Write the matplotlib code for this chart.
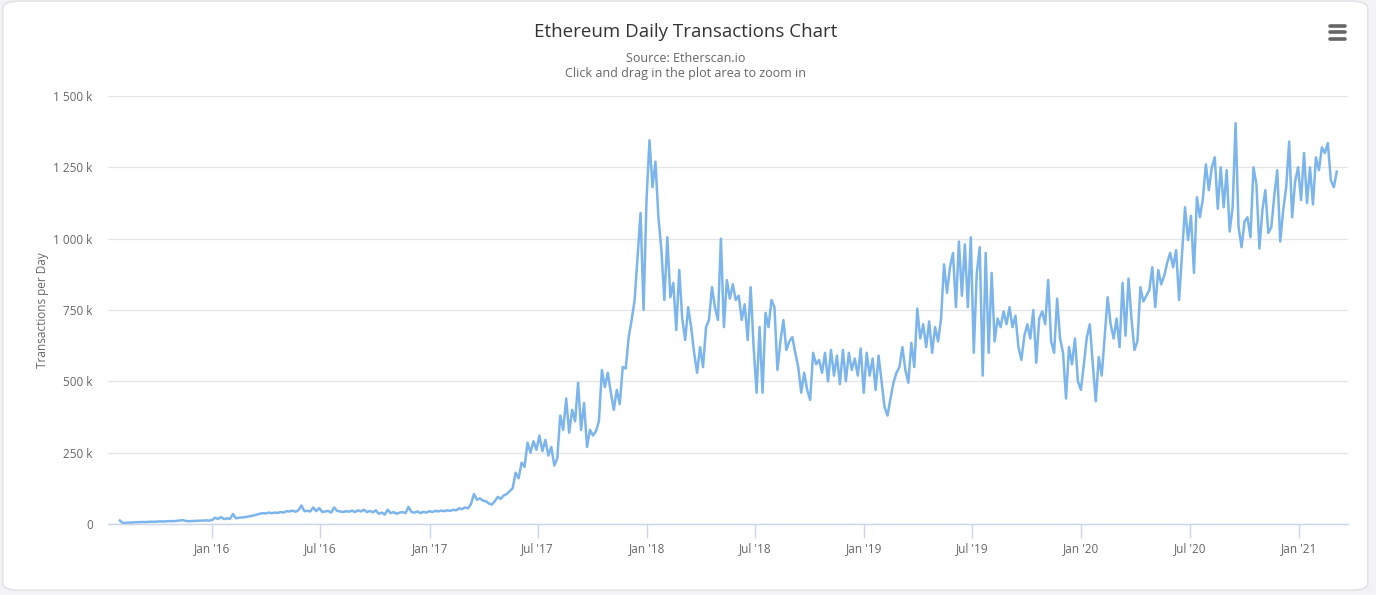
import pandas as pd
import numpy as np
import matplotlib.pyplot as plt
import matplotlib.dates as mdates
from matplotlib.patches import FancyBboxPatch
from matplotlib.lines import Line2D

plt.rcParams['font.family'] = ['Open Sans', 'DejaVu Sans']

# daily transactions (thousands), every 5 days from launch
start_date = '2015-07-30'
step = '5D'
tx_k = [
    12, 3, 4, 5, 5, 6, 6, 7, 7, 7, 8, 8, 8, 9, 9, 9, 10, 10, 10, 11,
    12, 14, 11, 10, 10, 11, 11, 12, 12, 13, 12, 14,
    22, 18, 24, 17, 20, 18, 35, 20, 22, 23, 24, 26, 28, 30, 33, 36, 38, 37,
    40, 38, 40, 39, 42, 40, 45, 44, 47, 43, 48, 65, 45, 46, 44, 58, 45, 56, 42, 44,
    46, 40, 58, 46, 44, 42, 45, 43, 47, 42, 48, 44, 50, 42, 46, 41, 48, 36, 40, 33,
    50, 38, 42, 36, 40, 42, 38, 60, 42, 40, 44, 38, 43, 40, 45, 42, 46, 44, 47, 45,
    48, 46, 50, 48, 55, 52, 58, 55,
    70, 105, 85, 90, 82, 80, 72, 68, 80, 95, 88, 100, 105, 115, 125, 180, 160, 215,
    200, 285, 250, 290, 260, 310, 255, 295, 240, 270, 205, 230,
    380, 330, 440, 320, 400, 360, 495, 330, 424, 270, 330, 310, 325, 360, 540, 480,
    530, 460, 400, 470, 420, 550, 545, 655, 715, 785, 935, 1090, 750, 1135, 1345, 1180,
    1270, 1075, 960, 785, 1005, 795, 845, 680, 890, 720, 645, 760, 690, 600, 530, 620,
    550, 690, 715, 830, 760, 715, 1000, 690, 855, 790, 840, 785, 800, 715, 770, 645,
    830, 620, 460, 690, 460, 740, 690, 785, 760, 540, 640, 715, 610, 640, 655, 600,
    550, 460, 530, 470, 435, 600, 560, 575,
    530, 600, 500, 610, 520, 590, 490, 610, 500, 600, 540, 580, 520, 615, 460, 600,
    520, 580, 470, 590, 500, 410, 380, 440, 495, 530, 550, 620, 540, 495, 635, 550,
    755, 650, 700, 620, 710, 600, 690, 640, 720, 910, 810, 900, 950, 760, 990, 800,
    980, 760, 1005, 600, 880, 970, 520, 950, 600, 880, 640, 720, 690, 745, 700, 760,
    690, 730, 620, 575, 660, 700, 650, 750, 565, 720, 745, 700, 855, 640, 600, 790,
    650, 600, 440, 620, 560, 650, 500, 470, 560, 655, 700, 560, 430, 585,
    520, 655, 795, 700, 650, 720, 620, 845, 660, 860, 720, 610, 640, 830, 780, 800,
    820, 900, 760, 890, 840, 870, 915, 950, 900, 960, 785, 950, 1110, 995, 1080, 880,
    1145, 1075, 1140, 1260, 1170, 1250, 1285, 1105, 1250, 1110, 1240, 1025, 1110, 1405,
    1040, 970, 1060, 1075, 1005, 1250, 1190, 965, 1100, 1170, 1020, 1040, 1150, 1240,
    990, 1100, 1180, 1340, 1075, 1200, 1250, 1135, 1300, 1125, 1250, 1120, 1285, 1240,
    1320, 1300, 1335, 1205, 1180, 1235,
]
dates = pd.date_range(start_date, periods=len(tx_k), freq=step)

y_ticks = [0, 250, 500, 750, 1000, 1250, 1500]
y_labels = ['0', '250 k', '500 k', '750 k', '1 000 k', '1 250 k', '1 500 k']

fig = plt.figure(figsize=(13.76, 5.95), dpi=100, facecolor='#f3f3f5')
card = FancyBboxPatch((0.002, 0.008), 0.992, 0.99, boxstyle='round,pad=0,rounding_size=0.012',
                      transform=fig.transFigure, facecolor='white', edgecolor='#e3e3e8',
                      linewidth=1.2, zorder=-1)
fig.patches.append(card)

ax = fig.add_axes([0.0785, 0.1193, 0.9012, 0.7194])
ax.set_facecolor('none')
ax.plot(dates, tx_k, color='#7cb5ec', linewidth=1.8, solid_joinstyle='round')

ax.set_ylim(0, 1500)
ax.set_xlim(pd.Timestamp('2015-07-10'), pd.Timestamp('2021-03-24'))
ax.set_yticks(y_ticks)
ax.set_yticklabels(y_labels)
ax.yaxis.grid(True, color='#e6e6e6', linewidth=1)
ax.set_axisbelow(True)

ax.xaxis.set_major_locator(mdates.MonthLocator(bymonth=[1, 7]))
ax.xaxis.set_major_formatter(mdates.DateFormatter("%b '%y"))

for s in ['top', 'right', 'left']:
    ax.spines[s].set_visible(False)
ax.spines['bottom'].set_color('#ccd6eb')
ax.spines['bottom'].set_linewidth(1)
ax.tick_params(axis='x', colors='#666666', labelsize=8.5, length=10, width=1,
               color='#ccd6eb', pad=3)
ax.tick_params(axis='y', colors='#666666', labelsize=8.5, length=0, pad=11)
for lab in ax.get_xticklabels() + ax.get_yticklabels():
    lab.set_color('#666666')

ax.set_ylabel('Transactions per Day', color='#666666', fontsize=8.5, labelpad=3)

fig.text(0.4985, 0.947, 'Ethereum Daily Transactions Chart', ha='center', va='center',
         fontsize=13.5, color='#333333')
fig.text(0.4985, 0.902, 'Source: Etherscan.io', ha='center', va='center',
         fontsize=9, color='#666666')
fig.text(0.4985, 0.876, 'Click and drag in the plot area to zoom in', ha='center',
         va='center', fontsize=9, color='#666666')

# hamburger menu icon
for yy in [0.935, 0.946, 0.957]:
    fig.add_artist(Line2D([0.9665, 0.9773], [yy, yy], transform=fig.transFigure,
                          color='#666666', linewidth=2.6, solid_capstyle='round'))

fig.savefig('out.png', dpi=100, facecolor=fig.get_facecolor())
